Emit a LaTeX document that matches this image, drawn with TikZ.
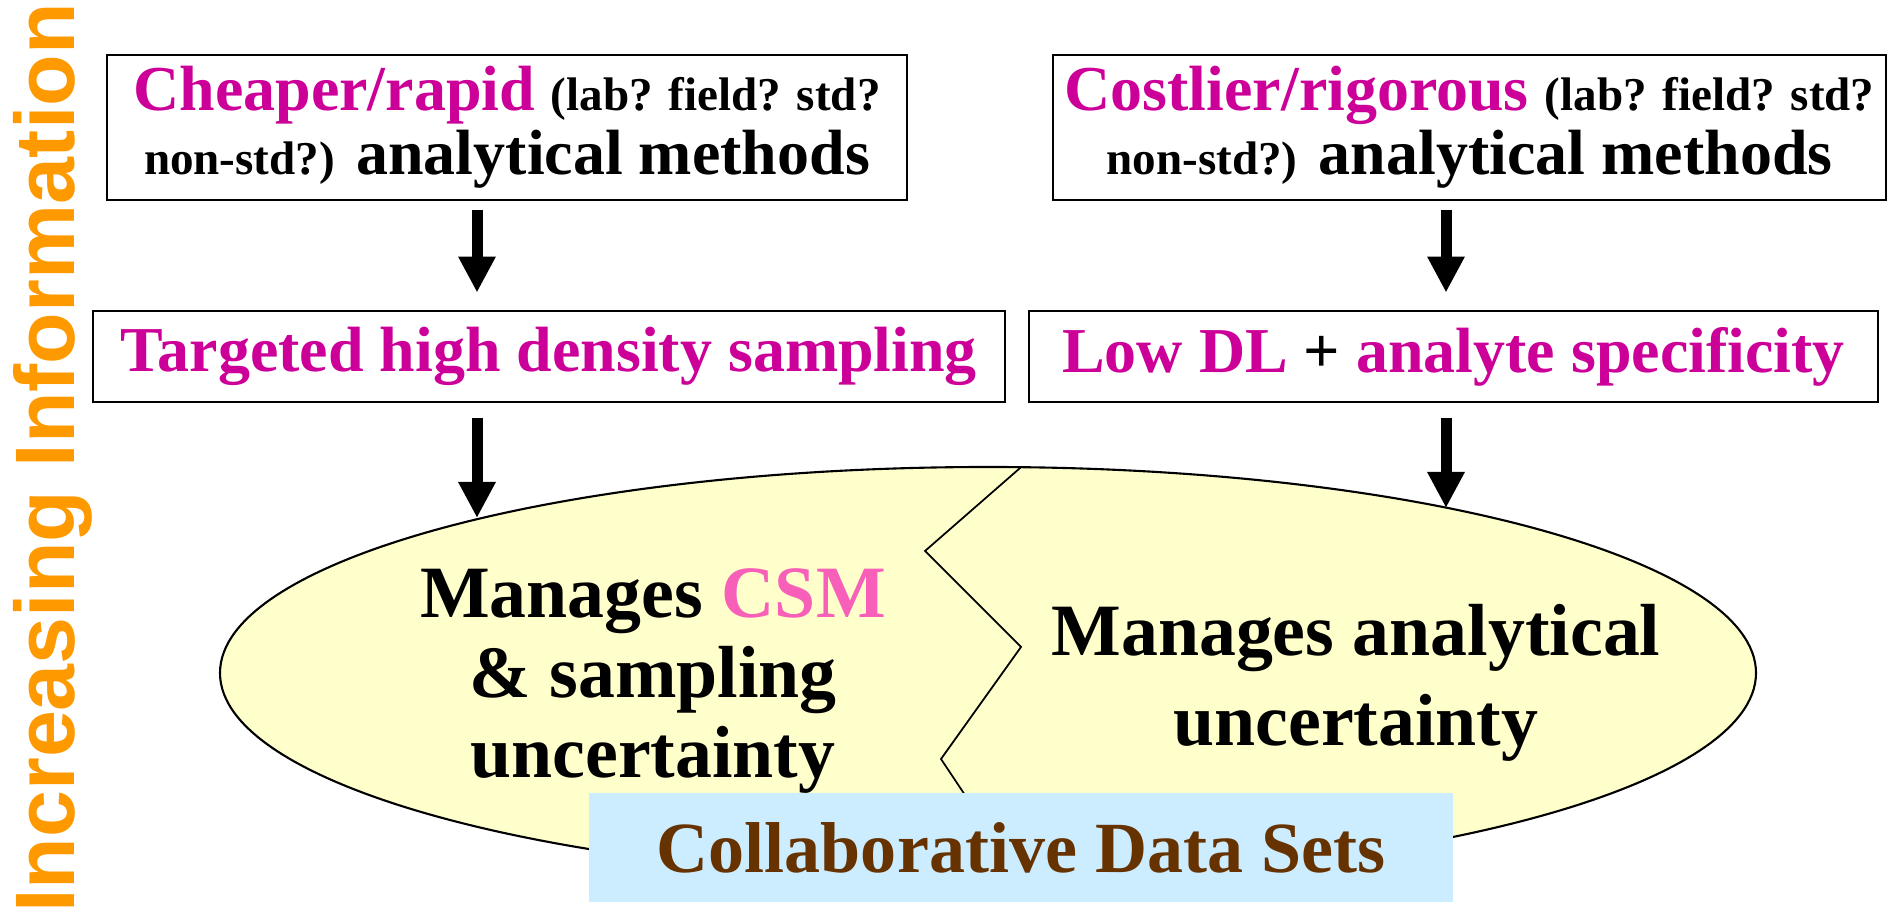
\documentclass[tikz,border=0pt]{standalone}
\usepackage{fontspec}
\setmainfont{Liberation Serif}
\newfontfamily\sansbold{Liberation Sans}
\usetikzlibrary{shapes.geometric, arrows.meta, calc}
\definecolor{mag}{HTML}{CC0099}
\definecolor{csm}{HTML}{F75FB8}
\definecolor{brn}{HTML}{663300}
\definecolor{skyfill}{HTML}{CCECFF}
\definecolor{cream}{HTML}{FFFFCC}
\definecolor{orng}{HTML}{FF9900}
\newcommand{\boxfont}{\fontsize{18.2}{18.2}\selectfont\bfseries}
\newcommand{\qfont}{\fontsize{13.4}{13.4}\selectfont}

\begin{document}
\begin{tikzpicture}
	\tikzstyle{box} = [rectangle, draw = black, line width = 0.8pt, inner sep = 0pt, align = center, font = \boxfont]
	\tikzstyle{line} = [line width = 0.11cm, -{Triangle[width=0.35cm,length=0.36cm]}]
	\useasboundingbox (0,0) rectangle (18.96,-9.16);
	\node(info)[anchor = base, rotate = 90, inner sep = 0pt, text = orng, font = \sansbold\bfseries\fontsize{24}{24}\selectfont] at (0.74,-4.58) {Increasing Information};
	\node(m1)[box, minimum width = 8cm, minimum height = 1.45cm] at (5.07,-1.275) {{\color{mag}Cheaper/rapid} {\qfont(lab? field? std?}\\{\qfont non-std?)} analytical methods};
	\node(m2)[box, minimum width = 8.33cm, minimum height = 1.45cm] at (14.695,-1.275) {{\color{mag}Costlier/rigorous} {\qfont(lab? field? std?}\\{\qfont non-std?)} analytical methods};
	\node(s1)[box, minimum width = 9.12cm, minimum height = 0.91cm, text = mag] at (5.49,-3.565) {Targeted high density sampling};
	\node(s2)[box, minimum width = 8.49cm, minimum height = 0.91cm] at (14.535,-3.565) {{\color{mag}Low DL} + {\color{mag}analyte specificity}};
	\node(ell)[ellipse, draw = black, line width = 0.6pt, fill = cream, inner sep = 0pt, minimum width = 15.36cm, minimum height = 4.12cm] at (9.88,-6.73) {};
	\draw[line width = 0.5pt] (10.21,-4.672) -- (9.25,-5.51) -- (10.21,-6.47) -- (9.41,-7.59) -- (10.21,-8.79);
	\node(u1)[align = center, font = \fontsize{21}{22.8}\selectfont\bfseries] at (6.53,-6.81) {Manages {\color{csm}CSM}\\\& sampling\\uncertainty};
	\node(u2)[align = center, font = \fontsize{21}{25.6}\selectfont\bfseries] at (13.56,-6.825) {Manages analytical\\uncertainty};
	\node(cds)[fill = skyfill, inner sep = 0pt, minimum width = 8.64cm, minimum height = 1.09cm, text = brn, font = \fontsize{20.5}{20.5}\selectfont\bfseries] at (10.21,-8.475) {Collaborative Data Sets};
	\coordinate(t1) at (4.77,-5.18);
	\coordinate(t2) at (14.46,-5.08);
	\draw[line, shorten <= 0.09cm, shorten >= 0.17cm](m1.south -| t1) -- (s1.north -| t1);
	\draw[line, shorten <= 0.09cm, shorten >= 0.17cm](m2.south -| t2) -- (s2.north -| t2);
	\draw[line, shorten <= 0.15cm](s1.south -| t1) -- (t1);
	\draw[line, shorten <= 0.15cm](s2.south -| t2) -- (t2);
\end{tikzpicture}
\end{document}
